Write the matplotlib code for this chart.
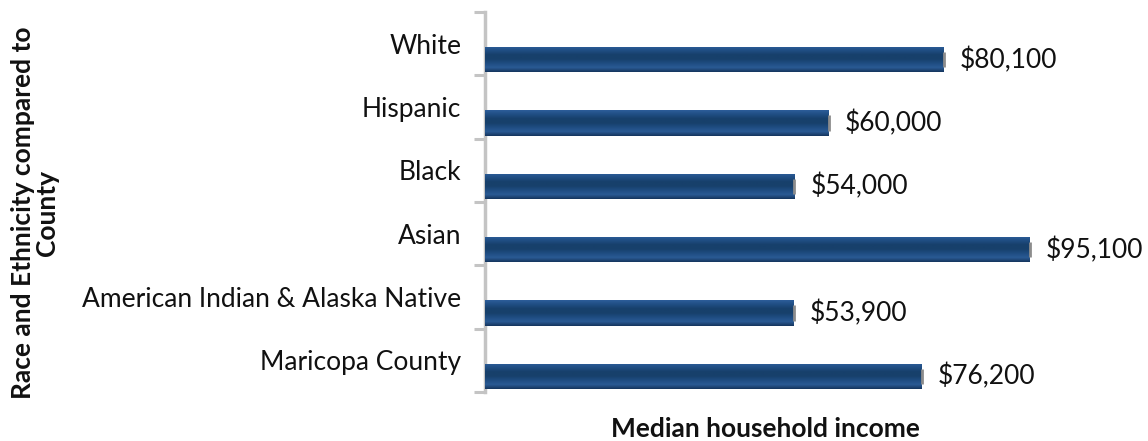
import matplotlib.pyplot as plt
import numpy as np
from matplotlib.colors import LinearSegmentedColormap

plt.rcParams['font.family'] = ['Lato', 'DejaVu Sans']

categories = ['White', 'Hispanic', 'Black', 'Asian',
              'American Indian & Alaska Native', 'Maricopa County']
income = [80100, 60000, 54000, 95100, 53900, 76200]
value_labels = ['$80,100', '$60,000', '$54,000', '$95,100', '$53,900', '$76,200']

fig = plt.figure(figsize=(11.48, 4.41), dpi=100)
ax = fig.add_axes([485 / 1148, 1 - 392 / 441, (1058 - 485) / 1148, 380 / 441])

n = len(categories)
ypos = np.arange(n)[::-1]          # White on top
bar_off = 0.254                    # bars sit in lower part of each band
bar_h = 0.40

# cylinder-like shading for the bars
cmap = LinearSegmentedColormap.from_list(
    'navy', ['#2d5d99', '#1f4d82', '#17406b', '#17406b', '#1f4d82', '#2a5a94', '#15365e'])
grad = np.linspace(0, 1, 64).reshape(-1, 1)

bars = ax.barh(ypos - bar_off, income, height=bar_h, color='#1a436f', zorder=2)
for b, v in zip(bars, income):
    x0, y0 = b.get_x(), b.get_y()
    im = ax.imshow(grad, cmap=cmap, aspect='auto', origin='upper',
                   extent=[x0, x0 + v, y0, y0 + bar_h], zorder=3)
    im.set_clip_path(b)
    # small gray end cap
    ax.plot([v, v], [y0 + 0.08, y0 + bar_h - 0.08], color='#8c8c8c', lw=2,
            solid_capstyle='butt', zorder=4)

for y, v, t in zip(ypos, income, value_labels):
    ax.text(v + 2800, y - bar_off, t, va='center', ha='left', fontsize=19,
            color='#111111', clip_on=False)

ax.set_xlim(0, 100000)
ax.set_ylim(-0.5, n - 0.5)

ax.set_yticks(ypos)
ax.set_yticklabels(categories, fontsize=19, color='#111111')
ax.set_yticks(np.arange(-0.5, n, 1.0), minor=True)
ax.tick_params(axis='y', which='major', length=0, pad=17)
ax.tick_params(axis='y', which='minor', length=8, width=2.2, color='#c4c4c4')
ax.set_xticks([])

for s in ['top', 'right', 'bottom']:
    ax.spines[s].set_visible(False)
ax.spines['left'].set_color('#c4c4c4')
ax.spines['left'].set_linewidth(2.5)

fig.text(765 / 1148, 1 - 429 / 441, 'Median household income', ha='center', va='center',
         fontsize=19, fontweight='bold', color='#111111')
fig.text(35 / 1148, 1 - 213 / 441, 'Race and Ethnicity compared to\nCounty', ha='center',
         va='center', rotation=90, fontsize=19, fontweight='bold', color='#111111',
         linespacing=1.0)

fig.savefig('out.png', dpi=100)
